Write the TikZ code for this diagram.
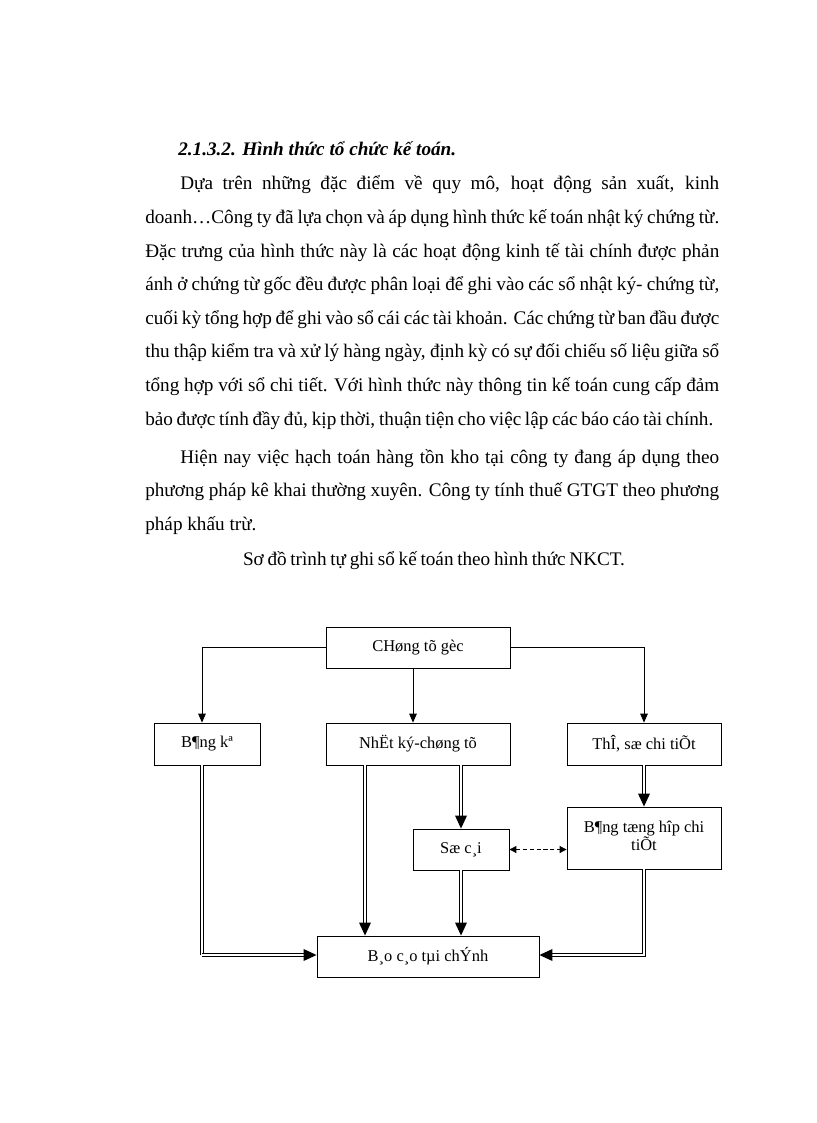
\documentclass[tikz,border=0pt]{standalone}
\usepackage{fontspec}
\setmainfont{Liberation Serif}
\usetikzlibrary{arrows.meta,calc}
\newlength\pxl
\setlength\pxl{0.7292pt}
\begin{document}
\begin{tikzpicture}[x=0.7292pt,y=-0.7292pt,
  txt/.style={inner sep=0pt,anchor=base west,font=\fontsize{14}{16}\selectfont},
  box/.style={draw,line width=0.6pt,inner sep=1pt,font=\fontsize{12}{14}\selectfont,align=center},
  thin/.style={line width=0.6pt,-{Triangle[length=6.5pt,width=5.5pt]}},
  dblthin/.style={double,line width=0.55pt,double distance=1.6pt},
  dbl/.style={double,line width=1pt,double distance=1.2pt,-{Triangle[length=9.5pt,width=8.5pt]}},
  dsh/.style={line width=0.6pt,dash pattern=on 3pt off 2pt,{Triangle[length=5pt,width=5pt]}-{Triangle[length=5pt,width=5pt]}}]
\useasboundingbox[fill=white] (0,0) rectangle (816,1123);
% text
\node[txt] (t0) at (178,156) {\bfseries\itshape 2.1.3.2. Hình thức tổ chức kế toán.};
\node[txt] (a1) at (180,190) {\makebox[539\pxl][s]{Dựa trên những đặc điểm về quy mô, hoạt động sản xuất, kinh}};
\node[txt] (a2) at (145,223.6) {\makebox[574\pxl][s]{doanh…Công ty đã lựa chọn và áp dụng hình thức kế toán nhật ký chứng từ.}};
\node[txt] (a3) at (145,257.2) {\makebox[574\pxl][s]{Đặc trưng của hình thức này là các hoạt động kinh tế tài chính được phản}};
\node[txt] (a4) at (145,290.8) {\makebox[574\pxl][s]{ánh ở chứng từ gốc đều được phân loại để ghi vào các sổ nhật ký- chứng từ,}};
\node[txt] (a5) at (145,324.4) {\makebox[574\pxl][s]{cuối kỳ tổng hợp để ghi vào sổ cái các tài khoản. Các chứng từ ban đầu được}};
\node[txt] (a6) at (145,358) {\makebox[574\pxl][s]{thu thập kiểm tra và xử lý hàng ngày, định kỳ có sự đối chiếu số liệu giữa sổ}};
\node[txt] (a7) at (145,391.6) {\makebox[574\pxl][s]{tổng hợp với sổ chi tiết. Với hình thức này thông tin kế toán cung cấp đảm}};
\node[txt] (a8) at (145,425.2) {\makebox[568\pxl][s]{bảo được tính đầy đủ, kịp thời, thuận tiện cho việc lập các báo cáo tài chính.}};
\node[txt] (b1) at (180,463) {\makebox[539\pxl][s]{Hiện nay việc hạch toán hàng tồn kho tại công ty đang áp dụng theo}};
\node[txt] (b2) at (145,496.6) {\makebox[574\pxl][s]{phương pháp kê khai thường xuyên. Công ty tính thuế GTGT theo phương}};
\node[txt] (b3) at (145,530.2) {pháp khấu trừ.};
\node[txt,anchor=base] (cap) at (434,565) {\makebox[382\pxl][s]{Sơ đồ trình tự ghi sổ kế toán theo hình thức NKCT.}};
% boxes
\node[box,minimum width=184\pxl,minimum height=41\pxl] (cg) at (418,647.5) {CHøng tõ gèc};
\node[box,minimum width=106\pxl,minimum height=42\pxl] (bk) at (207,744) {B¶ng kª};
\node[box,minimum width=184\pxl,minimum height=42\pxl] (nk) at (418,744) {NhËt ký-chøng tõ};
\node[box,minimum width=154\pxl,minimum height=42\pxl] (ts) at (644,744) {ThÎ, sæ chi tiÕt};
\node[box,minimum width=96\pxl,minimum height=41\pxl] (sc) at (461,849.5) {Sæ c¸i};
\node[box,minimum width=154\pxl,minimum height=62\pxl] (th) at (644,838) {\raisebox{-2.6pt}[0pt][0pt]{\begin{tabular}{@{}c@{}}B¶ng tæng hîp chi\\[-1pt]tiÕt\end{tabular}}};
\node[box,minimum width=222\pxl,minimum height=41\pxl] (bc) at (428,956.5) {B¸o c¸o tµi chÝnh};
\coordinate (bkc) at (202,955);
% connectors
\draw[thin] (cg.west) -| ($(bk.north)+(-5,0)$);
\draw[thin] ($(cg.south)+(-5,0)$) -- ($(nk.north)+(-5,0)$);
\draw[thin] (cg.east) -| (ts.north);
\draw[dblthin] ($(bk.south)+(-5,0)$) -- (bkc);
\draw[dbl] (bkc) -- (bkc -| bc.west);
\draw[dbl] ($(nk.south)+(-53,0)$) -- ($(bc.north)+(-63,0)$);
\draw[dbl] (nk.south -| sc.north) -- (sc.north);
\draw[dbl] (sc.south) -- (sc.south |- bc.north);
\draw[dbl] (ts.south) -- (th.north);
\draw[dbl] (th.south) |- (bkc -| bc.east);
\draw[dsh] (sc.east) -- (sc.east -| th.west);
\end{tikzpicture}
\end{document}
